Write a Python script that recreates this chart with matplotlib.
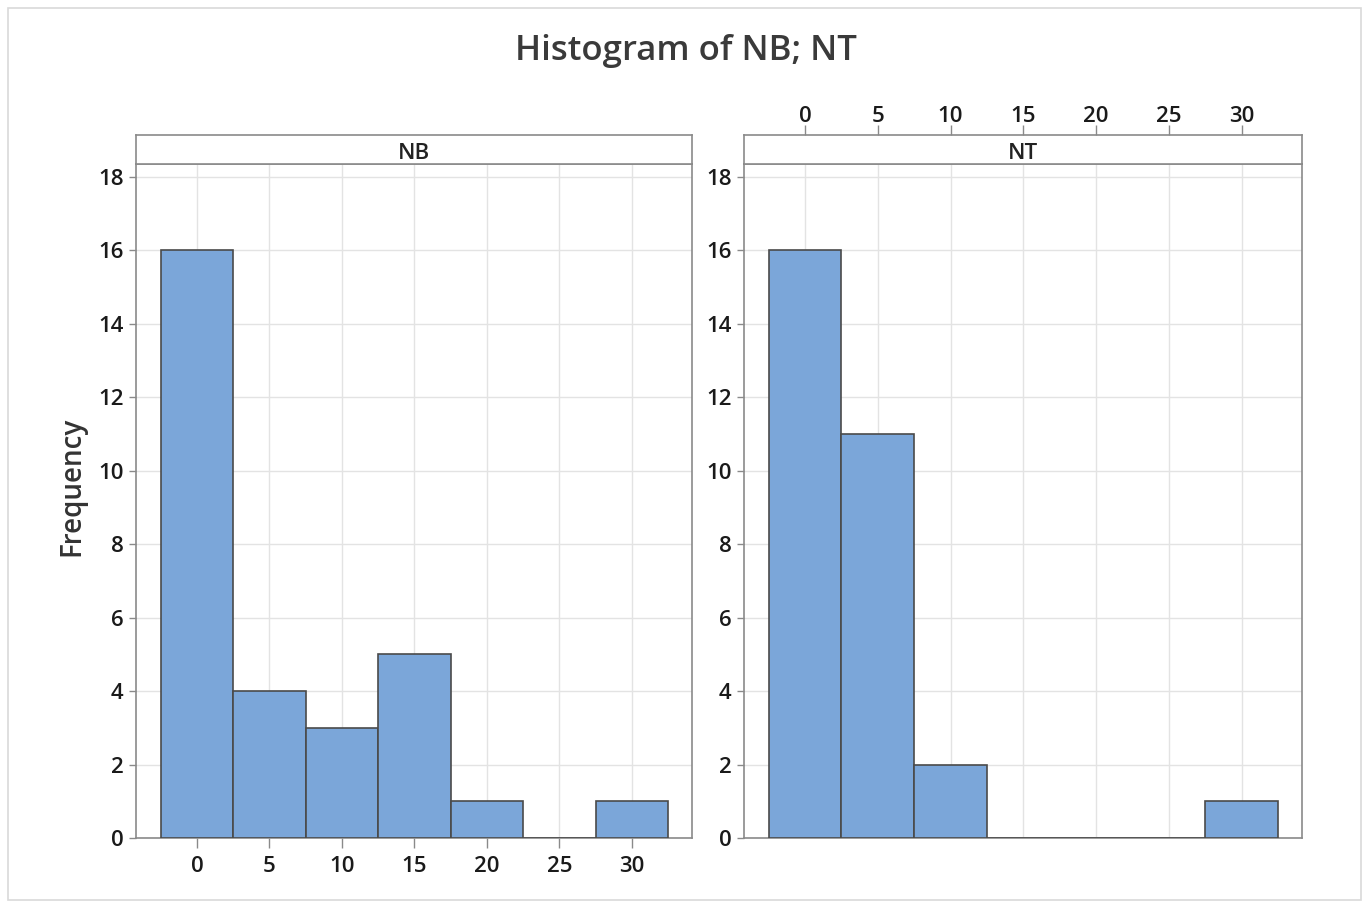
import matplotlib
matplotlib.use("Agg")
import matplotlib.pyplot as plt
import numpy as np
from matplotlib.patches import Rectangle

plt.rcParams['font.family'] = ['Open Sans', 'DejaVu Sans']

bin_centers = [0, 5, 10, 15, 20, 25, 30]
nb_counts = [16, 4, 3, 5, 1, 0, 1]
nt_counts = [16, 11, 2, 0, 0, 0, 1]
x_ticks = [0, 5, 10, 15, 20, 25, 30]
y_ticks = [0, 2, 4, 6, 8, 10, 12, 14, 16, 18]
panel_names = ["NB", "NT"]
title = "Histogram of NB; NT"
ylabel = "Frequency"

W, H = 1368, 905
fig = plt.figure(figsize=(W / 100, H / 100), dpi=100)

def rect(x0, y0, x1, y1):
    return [x0 / W, 1 - y1 / H, (x1 - x0) / W, (y1 - y0) / H]

fig.patches.append(Rectangle((8 / W, 1 - 900 / H), (1361 - 8) / W, (900 - 8) / H,
                             transform=fig.transFigure, fill=False,
                             edgecolor="#d9d9d9", linewidth=1.2))

bar_color = "#7BA6D9"
edge_color = "#4a4a4a"
spine_color = "#8a8a8a"
text_color = "#1a1a1a"
tick_fs = 16
weight = "semibold"

panels = [(136, 692, nb_counts), (744, 1302, nt_counts)]
for i, (x0, x1, counts) in enumerate(panels):
    ax = fig.add_axes(rect(x0, 164, x1, 838))
    strip = fig.add_axes(rect(x0, 135, x1, 164), sharex=ax)
    ax.bar(bin_centers, counts, width=5, color=bar_color, edgecolor=edge_color,
           linewidth=1.2, zorder=3)
    ax.set_xlim(-4.2, 34.15)
    ax.set_ylim(0, 18.35)
    ax.set_yticks(y_ticks)
    ax.set_xticks(x_ticks)
    ax.grid(True, color="#e3e3e3", linewidth=1.0, zorder=0)
    ax.set_axisbelow(True)
    for s in ax.spines.values():
        s.set_color(spine_color)
        s.set_linewidth(1.2)
    ax.tick_params(axis="y", length=5, width=1, color=spine_color, labelsize=tick_fs,
                   labelcolor=text_color, pad=4)
    ax.tick_params(axis="x", length=7, width=1, color=spine_color, labelsize=tick_fs,
                   labelcolor=text_color, pad=6)
    for lab in ax.get_xticklabels() + ax.get_yticklabels():
        lab.set_fontweight(weight)
    if i == 1:
        ax.tick_params(axis="x", bottom=False, labelbottom=False)
    strip.set_facecolor("white")
    strip.set_yticks([])
    for s in strip.spines.values():
        s.set_color(spine_color)
        s.set_linewidth(1.2)
    strip.text(0.5, 0.35, panel_names[i], transform=strip.transAxes, ha="center",
               va="center", fontsize=tick_fs, color="#222222", fontweight=weight)
    if i == 1:
        strip.tick_params(axis="x", top=True, labeltop=True, bottom=False,
                          labelbottom=False, length=7, width=1, color=spine_color,
                          labelsize=tick_fs, labelcolor=text_color, pad=-1)
        for lab in strip.get_xticklabels():
            lab.set_fontweight(weight)
    else:
        strip.tick_params(axis="x", bottom=False, labelbottom=False, top=False,
                          labeltop=False)

fig.text(72 / W, 1 - 486 / H, ylabel, rotation=90, ha="center", va="center",
         fontsize=20, color="#333333", fontweight=weight)

fig.text(686 / W, 1 - 51 / H, title, ha="center", va="center", fontsize=25,
         color="#3a3a3a", fontweight=weight)

fig.savefig("out.png", dpi=100)
